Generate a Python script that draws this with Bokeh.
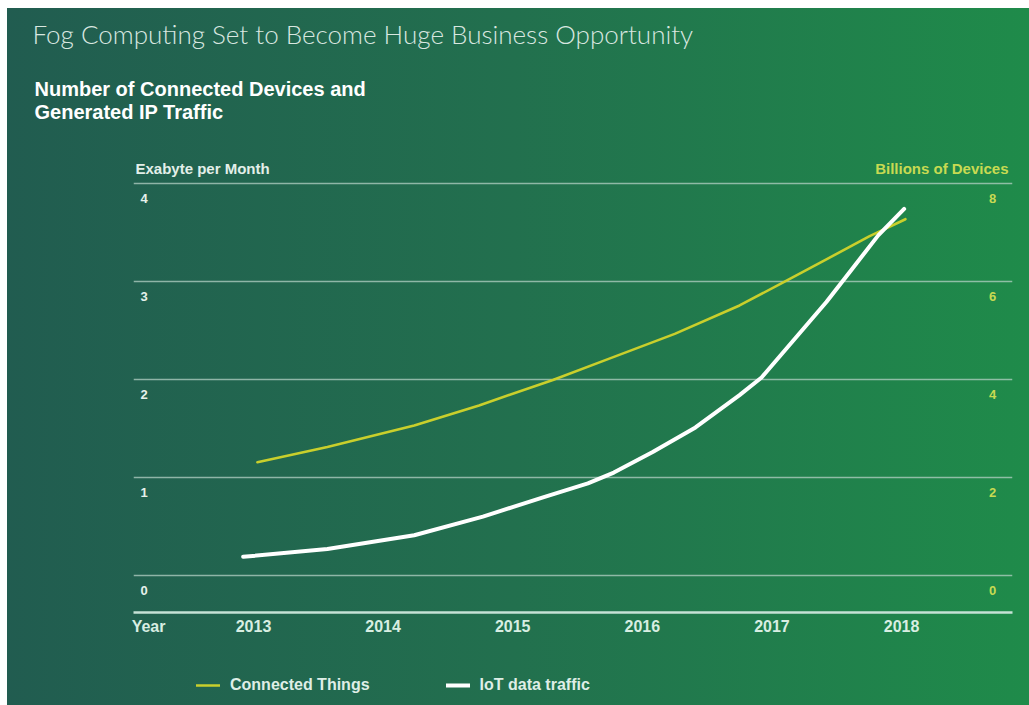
from bokeh.plotting import figure
from bokeh.layouts import column
from bokeh.models import (Range1d, Label, Legend, LegendItem, FixedTicker, Grid,
                          ColumnDataSource, Title)
from bokeh.core.properties import value
from bokeh.embed import file_html
from bokeh.resources import INLINE

# ---- data ----
years = [2013, 2014, 2015, 2016, 2017, 2018]
exabyte_ticks = [0, 1, 2, 3, 4]
device_ticks = [0, 2, 4, 6, 8]

things_years = [2013.03, 2013.57, 2014.24, 2014.74, 2015.31, 2015.74, 2016.25, 2016.75,
                2017.08, 2017.42, 2017.75, 2018.03]
connected_things = [2.31, 2.62, 3.06, 3.47, 3.99, 4.42, 4.93, 5.51,
                    5.97, 6.45, 6.92, 7.27]          # billions of devices

traffic_years = [2012.92, 2013.57, 2014.24, 2014.77, 2015.24, 2015.58, 2015.78, 2016.08,
                 2016.41, 2016.75, 2016.92, 2017.18, 2017.42, 2017.62, 2017.82, 2018.02]
iot_traffic = [0.19, 0.27, 0.41, 0.60, 0.80, 0.94, 1.05, 1.26,
               1.51, 1.84, 2.02, 2.42, 2.79, 3.13, 3.47, 3.74]   # exabyte per month

title_text = "Fog Computing Set to Become Huge Business Opportunity"
subtitle_text = "Number of Connected Devices and\nGenerated IP Traffic"
left_axis_title = "Exabyte per Month"
right_axis_title = "Billions of Devices"
x_axis_title = "Year"
series_names = ["Connected Things", "IoT data traffic"]

# ---- styling ----
W, H = 1029, 705
LEG_H = 45                                 # height of the legend strip
MAIN_H = H - LEG_H
FL, FR, FT = 133, 17, 150                  # borders around plot frame
FB = MAIN_H - 612
x_start, x_end = 2012.074, 2018.856
y_start, y_end = -0.378, 4.336
px_per_year = (W - FL - FR) / (x_end - x_start)

YELLOW = "#c9cf2c"
YELLOW_TXT = "#c8da52"
LIGHT = "#e6f1eb"
FONT = "Liberation Sans"
GRAD = "linear-gradient(90deg, #215c50 0%, #22704e 50%, #1f8b4a 100%)"
WHITE_LEFT = "linear-gradient(#ffffff,#ffffff) left top / 7px 100% no-repeat"
WHITE_TOP = "linear-gradient(#ffffff,#ffffff) left top / 100% 8px no-repeat"

p = figure(width=W, height=MAIN_H, output_backend="svg", toolbar_location=None,
           x_range=Range1d(x_start, x_end), y_range=Range1d(y_start, y_end),
           y_axis_location=None, min_border_left=FL, min_border_right=FR,
           min_border_top=FT, min_border_bottom=FB, title=None)
p.extra_y_ranges = {"devices": Range1d(y_start * 2, y_end * 2)}

p.background_fill_alpha = 0
p.border_fill_alpha = 0
p.outline_line_color = None
p.styles = {"background": f"{WHITE_TOP}, {WHITE_LEFT}, {GRAD}"}

# grid
p.xgrid.visible = False
for g in p.ygrid:
    g.visible = False
grid = Grid(dimension=1, ticker=FixedTicker(ticks=exabyte_ticks),
            grid_line_color="#b4d0c4", grid_line_alpha=0.75, grid_line_width=1.6)
p.add_layout(grid)

# x axis (the "Year" caption sits in the tick-label row at the left end)
year_label_x = round(x_start + 15 / px_per_year, 3)
ax = p.xaxis[0]
ax.ticker = FixedTicker(ticks=[year_label_x] + years)
ax.major_label_overrides = {year_label_x: x_axis_title}
ax.axis_line_color = "#c6e2d6"
ax.axis_line_width = 2.5
ax.major_tick_line_color = None
ax.minor_tick_line_color = None
ax.major_tick_out = 0
ax.major_tick_in = 0
ax.major_label_standoff = 5
ax.major_label_text_font = FONT
ax.major_label_text_font_style = "bold"
ax.major_label_text_font_size = "16px"
ax.major_label_text_color = "#d8eee2"

# series
src_t = ColumnDataSource(dict(x=things_years, y=connected_things))
src_i = ColumnDataSource(dict(x=traffic_years, y=iot_traffic))
line_t = dict(line_color=YELLOW, line_width=2.6, line_cap="round", line_join="round")
line_i = dict(line_color="#ffffff", line_width=4, line_cap="round", line_join="round")
p.line("x", "y", source=src_t, y_range_name="devices", **line_t)
p.line("x", "y", source=src_i, **line_i)

# tick labels (below each grid line)
p.text(x=[x_start] * len(exabyte_ticks), y=exabyte_ticks, text=[str(t) for t in exabyte_ticks],
       x_offset=7, y_offset=15, text_align="left", text_baseline="middle",
       text_font=value(FONT), text_font_style="bold", text_font_size="13px", text_color=LIGHT)
p.text(x=[x_end] * len(device_ticks), y=device_ticks, text=[str(t) for t in device_ticks],
       y_range_name="devices", x_offset=-20, y_offset=15, text_align="center",
       text_baseline="middle", text_font=value(FONT), text_font_style="bold",
       text_font_size="13px", text_color=YELLOW_TXT)

# axis captions inside the frame (screen units relative to frame bottom-left)
def lab(text, cx, cy, size, color, style="bold", align="left"):
    p.add_layout(Label(x=cx - FL, y=612 - cy, x_units="screen", y_units="screen",
                       text=text, text_font=FONT, text_font_size=size, text_color=color,
                       text_font_style=style, text_align=align, text_baseline="alphabetic"))

lab(left_axis_title, 135, 168, "15px", "#e3efe9")
lab(right_axis_title, 1008, 168, "15px", YELLOW_TXT, align="right")

# titles above the frame (first added = closest to frame)
p.add_layout(Title(text=subtitle_text, align="left", offset=34 - FL, standoff=54,
                   text_font=FONT, text_font_style="bold", text_font_size="20px",
                   text_color="#ffffff", text_line_height=1.05), "above")
p.add_layout(Title(text=title_text, align="left", offset=32 - FL, standoff=0,
                   text_font="Lato Light", text_font_style="normal", text_font_size="26px",
                   text_color="#d9e7e0"), "above")

# ---- legend strip below the chart (its frame is aligned with the chart's frame) ----
lg = figure(width=W, height=LEG_H, output_backend="svg", toolbar_location=None,
            x_range=Range1d(0, 1), y_range=Range1d(0, 1), x_axis_location=None,
            y_axis_location=None, min_border=0, title=None)
lg.background_fill_alpha = 0
lg.border_fill_alpha = 0
lg.outline_line_color = None
lg.grid.visible = False
lg.styles = {"background": f"{WHITE_LEFT}, {GRAD}"}
lr_t = lg.line("x", "y", source=src_t, **line_t)     # outside the strip's ranges: legend keys only
lr_i = lg.line("x", "y", source=src_i, **line_i)
legend = Legend(items=[LegendItem(label=series_names[0], renderers=[lr_t]),
                       LegendItem(label=series_names[1], renderers=[lr_i])],
                location=(196 - FL, 10), orientation="horizontal",
                background_fill_alpha=0, border_line_alpha=0, padding=0, margin=0,
                spacing=76, glyph_width=24, glyph_height=20, label_standoff=10,
                label_text_font=FONT, label_text_font_style="bold",
                label_text_font_size="16px", label_text_color="#dfeee6")
lg.add_layout(legend, "center")

layout = column(p, lg, spacing=0)
open("out.html", "w").write(file_html(layout, INLINE))
